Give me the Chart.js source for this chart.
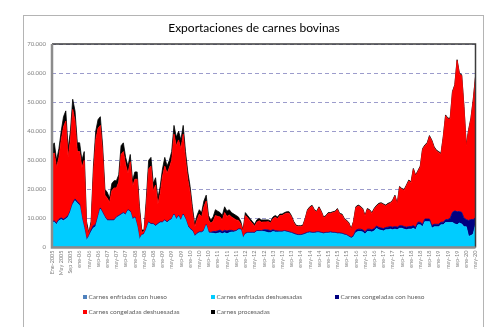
<!DOCTYPE html>
<html>
<head>
<meta charset="utf-8">
<script src="https://cdn.jsdelivr.net/npm/chart.js@4.4.1/dist/chart.umd.min.js"></script>
<style>
  html, body { margin: 0; padding: 0; background: #fff; }
  #wrap { position: relative; width: 499px; height: 327px; overflow: hidden; font-family: Lato, "Open Sans", sans-serif; }
  #frame { position: absolute; left: 23px; top: 15px; width: 461px; height: 330px; box-sizing: border-box; border: 1.5px solid #b4b4b4; }
  #c { position: absolute; left: 0; top: 0; }
  #title { position: absolute; left: 0; width: 508px; top: 20px; text-align: center; font-size: 12px; color: #000; }
  .item { position: absolute; font-size: 6.5px; color: #606060; line-height: 8px; white-space: nowrap; }
  .item i { display: inline-block; width: 4px; height: 4px; margin-right: 1.5px; vertical-align: 0; }
</style>
</head>
<body>
<div id="wrap">
  <div id="frame"></div>
  <canvas id="c" width="499" height="327"></canvas>
  <div id="title">Exportaciones de carnes bovinas</div>
  <div id="legend"></div>
</div>
<script>
// Toneladas por mes, Ene-2005 a may-20 (185 meses)
const tickLabels = [
  'Ene-2005', 'May 2005', 'Sep 2005',
  'ene-06', 'may-06', 'sep-06', 'ene-07', 'may-07', 'sep-07',
  'ene-08', 'may-08', 'sep-08', 'ene-09', 'may-09', 'sep-09',
  'ene-10', 'may-10', 'sep-10', 'ene-11', 'may-11', 'sep-11',
  'ene-12', 'may-12', 'sep-12', 'ene-13', 'may-13', 'sep-13',
  'ene-14', 'may-14', 'sep-14', 'ene-15', 'may-15', 'sep-15',
  'ene-16', 'may-16', 'sep-16', 'ene-17', 'may-17', 'sep-17',
  'ene-18', 'may-18', 'sep-18', 'ene-19', 'may-19', 'sep-19',
  'ene-20', 'may-20'
];

const enfriadasConHueso = [
  200, 200, 200, 200, 200, 200, 200, 200, 200, 200,
  200, 200, 200, 200, 200, 200, 200, 200, 200, 200,
  200, 200, 200, 200, 200, 200, 200, 200, 200, 200,
  200, 200, 200, 200, 200, 200, 200, 200, 200, 200,
  200, 200, 200, 200, 200, 200, 200, 200, 200, 200,
  200, 200, 200, 200, 200, 200, 200, 200, 200, 200,
  200, 200, 100, 100, 100, 100, 100, 100, 100, 100,
  100, 100, 100, 100, 100, 100, 100, 100, 100, 100,
  100, 100, 100, 100, 100, 100, 100, 100, 100, 100,
  100, 100, 100, 100, 100, 100, 100, 100, 100, 100,
  100, 100, 100, 100, 100, 100, 100, 100, 100, 100,
  100, 100, 100, 100, 100, 100, 100, 100, 100, 100,
  100, 100, 100, 100, 100, 100, 100, 100, 100, 100,
  100, 100, 100, 100, 100, 100, 100, 100, 100, 100,
  100, 100, 100, 100, 100, 100, 100, 100, 100, 100,
  100, 100, 100, 100, 100, 100, 100, 100, 100, 100,
  100, 100, 100, 100, 100, 100, 100, 100, 100, 100,
  100, 100, 100, 100, 100, 100, 100, 100, 100, 100,
  100, 100, 100, 100, 100
];

const enfriadasDeshuesadas = [
  8500, 8500, 7700, 9000, 9400, 9000, 9600, 10200, 12000, 14500,
  15900, 15000, 14200, 9600, 6200, 2200, 3500, 5100, 6500, 7000,
  10000, 13000, 11500, 10000, 9000, 9000, 9000, 9000, 10000, 10500,
  11000, 11500, 11000, 12500, 12000, 9400, 10000, 7000, 2500, 4000,
  4300, 6000, 8300, 7700, 7700, 7100, 7700, 8300, 8300, 9000,
  8300, 9000, 9400, 11000, 9400, 10500, 9000, 11000, 9400, 7000,
  6000, 5400, 3700, 4500, 5000, 5000, 5500, 7500, 5000, 4800,
  4800, 4600, 4800, 5000, 4600, 5000, 4600, 5000, 5200, 5200,
  5400, 6000, 6000, 3100, 4500, 4800, 4800, 4800, 4800, 5400,
  5400, 5400, 5400, 5200, 5000, 5000, 5400, 5200, 5200, 5200,
  5200, 5400, 5200, 5000, 4800, 4500, 4200, 4000, 4000, 4200,
  4500, 4800, 5000, 4800, 4800, 5000, 5000, 4800, 4600, 4800,
  4800, 5000, 4800, 4800, 4600, 4600, 4500, 4200, 4000, 3500,
  3100, 3500, 5000, 5400, 5400, 5200, 4500, 5400, 5400, 5200,
  5600, 6500, 6000, 5800, 5600, 6000, 6000, 6200, 6000, 6200,
  6000, 6500, 6500, 6200, 6000, 6200, 6200, 6500, 6000, 7700,
  7700, 7000, 8800, 8800, 8800, 6500, 7000, 7000, 7000, 7700,
  7700, 8500, 8500, 8500, 8500, 8000, 7700, 8300, 8000, 7000,
  7000, 3700, 4000, 4500, 7700
];

const congeladasConHueso = [
  400, 400, 500, 500, 600, 500, 500, 500, 500, 500,
  600, 600, 500, 400, 400, 300, 300, 700, 800, 700,
  500, 400, 400, 300, 300, 300, 300, 300, 300, 300,
  300, 300, 300, 300, 300, 300, 300, 300, 200, 200,
  200, 300, 300, 300, 300, 300, 300, 300, 300, 300,
  300, 300, 300, 300, 300, 300, 300, 300, 300, 300,
  300, 300, 300, 300, 300, 300, 300, 300, 300, 300,
  600, 800, 800, 900, 800, 800, 1000, 800, 600, 400,
  300, 300, 300, 200, 300, 300, 300, 300, 300, 300,
  300, 300, 600, 800, 900, 700, 600, 500, 400, 300,
  300, 300, 300, 300, 300, 300, 300, 300, 300, 300,
  300, 300, 300, 300, 300, 300, 300, 300, 300, 300,
  300, 300, 300, 300, 300, 300, 300, 300, 300, 300,
  300, 500, 800, 800, 800, 800, 800, 800, 800, 800,
  800, 800, 800, 800, 800, 800, 900, 900, 900, 900,
  900, 900, 900, 900, 900, 900, 900, 900, 900, 900,
  900, 900, 900, 900, 900, 900, 900, 900, 900, 900,
  900, 1000, 1000, 1500, 3500, 4500, 4500, 4000, 4000, 3000,
  2500, 5500, 5500, 5000, 2500
];

const congeladasDeshuesadas = [
  22900, 23400, 19100, 21300, 26800, 31800, 33200, 20100, 24300, 32300,
  26800, 17200, 18100, 17300, 23200, 4800, 700, 2200, 18000, 29100,
  30300, 28400, 20400, 7500, 7500, 6000, 10000, 11000, 10000, 11500,
  20500, 21000, 17000, 12500, 17000, 11100, 13000, 16000, 9600, 800,
  1000, 8500, 18200, 19800, 11300, 13900, 6800, 9700, 15700, 18500,
  16700, 18000, 20100, 27500, 25100, 26000, 24500, 27500, 20600, 16000,
  12500, 6100, 2900, 4600, 6100, 5100, 8100, 8100, 4100, 3100,
  3500, 5500, 5000, 4500, 4000, 6100, 5000, 5300, 4600, 4300,
  3700, 2900, 1800, 2100, 6100, 5000, 4000, 3100, 2100, 2900,
  3400, 2900, 2700, 2700, 2900, 2600, 3800, 4600, 4200, 5400,
  5400, 5700, 6200, 6400, 5400, 3700, 2800, 2800, 2800, 2800,
  4800, 7500, 8300, 9000, 7500, 6800, 8300, 7000, 5200, 5500,
  6500, 6300, 6800, 7000, 8100, 6400, 6300, 5100, 4700, 4300,
  2800, 4700, 7800, 8000, 7600, 7000, 5400, 6800, 6400, 5600,
  6700, 6800, 8000, 8400, 8200, 7400, 7900, 8000, 9000, 10500,
  7900, 13200, 12500, 12500, 14200, 15700, 15100, 19400, 17600, 17500,
  19000, 25700, 25200, 25900, 28400, 29200, 26400, 25200, 24700, 23400,
  29200, 35700, 34600, 34100, 41300, 43100, 52000, 47300, 47000, 38100,
  25400, 30900, 34600, 40900, 48300
];

const procesadas = [
  3000, 3500, 2500, 3000, 3000, 3500, 3500, 3000, 3000, 3500,
  3500, 3000, 3000, 2500, 3000, 1500, 300, 800, 2500, 3000,
  3000, 3000, 2500, 2000, 2000, 1500, 2500, 2500, 2500, 2500,
  3000, 3000, 2500, 2500, 2500, 2000, 2500, 2500, 1500, 800,
  300, 2000, 3000, 3000, 2500, 2500, 2000, 2500, 2500, 3000,
  2500, 2500, 3000, 3000, 3000, 3000, 3000, 3000, 2500, 2500,
  2000, 2000, 1000, 1500, 1500, 1500, 2000, 2000, 1500, 1200,
  1500, 2000, 1800, 1500, 1500, 2000, 1800, 1800, 1500, 1500,
  1500, 1200, 800, 500, 1000, 800, 800, 700, 700, 800,
  800, 800, 700, 700, 600, 600, 600, 600, 600, 500,
  500, 500, 500, 500, 400, 400, 300, 300, 300, 300,
  300, 300, 300, 300, 300, 300, 300, 300, 300, 300,
  300, 300, 300, 300, 300, 300, 300, 300, 300, 300,
  200, 200, 300, 300, 300, 300, 300, 300, 300, 300,
  300, 300, 300, 300, 300, 300, 300, 300, 300, 300,
  300, 300, 300, 300, 300, 300, 300, 300, 300, 300,
  300, 300, 300, 300, 300, 300, 300, 300, 300, 300,
  300, 300, 300, 300, 300, 300, 300, 300, 300, 300,
  300, 300, 300, 300, 300
];

const seriesNames = [
  'Carnes enfriadas con hueso',
  'Carnes enfriadas deshuesadas',
  'Carnes congeladas con hueso',
  'Carnes congeladas deshuesadas',
  'Carnes procesadas'
];
const seriesColors = ['#4F81BD', '#00CCFF', '#000080', '#FF0000', '#000000'];
const seriesData = [enfriadasConHueso, enfriadasDeshuesadas, congeladasConHueso, congeladasDeshuesadas, procesadas];

// one category per month, only every 4th one carries a label
const labels = enfriadasDeshuesadas.map((_, i) => (i % 4 === 0 ? tickLabels[i / 4] : ''));

function miles(v) {
  return String(v).replace(/\B(?=(\d{3})+(?!\d))/g, '.');
}

// plot area border: dark top/right, grey axes left/bottom
const plotFrame = {
  id: 'plotFrame',
  afterDraw(chart) {
    const { ctx, chartArea: a } = chart;
    ctx.save();
    ctx.strokeStyle = '#3c3c3c';
    ctx.lineWidth = 1.5;
    ctx.beginPath();
    ctx.moveTo(a.left, a.top);
    ctx.lineTo(a.right, a.top);
    ctx.lineTo(a.right, a.bottom);
    ctx.stroke();
    ctx.strokeStyle = '#8c8c8c';
    ctx.lineWidth = 2.5;
    ctx.beginPath();
    ctx.moveTo(a.left, a.top);
    ctx.lineTo(a.left, a.bottom);
    ctx.lineTo(a.right, a.bottom);
    ctx.stroke();
    ctx.restore();
  }
};

const chart = new Chart(document.getElementById('c'), {
  type: 'line',
  data: {
    labels: labels,
    datasets: seriesData.map((d, k) => ({
      label: seriesNames[k],
      data: d,
      backgroundColor: seriesColors[k],
      borderColor: seriesColors[k],
      borderWidth: 0.8,
      fill: k === 0 ? 'origin' : '-1',
      pointRadius: 0,
      tension: 0
    }))
  },
  options: {
    responsive: false,
    animation: false,
    events: [],
    layout: { padding: { left: 0, right: 23.5, top: 44, bottom: 0 } },
    plugins: {
      legend: { display: false },
      tooltip: { enabled: false },
      title: { display: false }
    },
    scales: {
      x: {
        type: 'category',
        offset: false,
        grid: { display: false, drawTicks: false },
        border: { display: false },
        ticks: {
          autoSkip: false,
          minRotation: 90,
          maxRotation: 90,
          padding: 3,
          color: '#808080',
          font: { family: 'Lato', size: 5.5 }
        },
        afterFit(s) { s.height = 79.5; }
      },
      y: {
        stacked: true,
        min: 0,
        max: 70000,
        grid: { color: '#9c9ccc', lineWidth: 1, drawTicks: false },
        border: { display: false, dash: [4, 3] },
        ticks: {
          stepSize: 10000,
          padding: 6,
          color: '#808080',
          font: { family: 'Lato', size: 6 },
          callback: (v) => miles(v)
        },
        afterFit(s) { s.width = 52; }
      }
    }
  },
  plugins: [plotFrame]
});

// legend laid out as in the original: 3 columns, 2 rows
const legendPos = [[83, 293], [211, 293], [335, 293], [83, 308], [211, 308]];
const legend = document.getElementById('legend');
seriesNames.forEach((name, k) => {
  const el = document.createElement('div');
  el.className = 'item';
  el.style.left = legendPos[k][0] + 'px';
  el.style.top = legendPos[k][1] + 'px';
  el.innerHTML = '<i style="background:' + seriesColors[k] + '"></i>' + name;
  legend.appendChild(el);
});
</script>
</body>
</html>
